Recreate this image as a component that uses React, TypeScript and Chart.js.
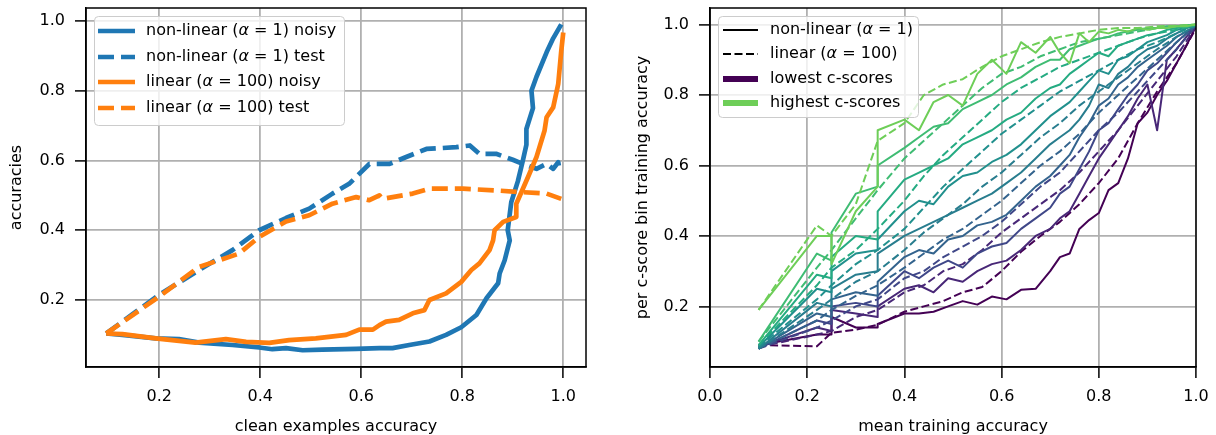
import React, { useEffect, useRef } from "react";
import { Chart, registerables } from "chart.js";
Chart.register(...registerables);

const FONT = "'DejaVu Sans', sans-serif";
const FS = 16;

// ---------- Left panel data ----------
const blueNoisyX = [0.095, 0.127, 0.193, 0.239, 0.279, 0.345, 0.398, 0.424, 0.451, 0.484, 0.523, 0.59, 0.636, 0.662, 0.695, 0.735, 0.768, 0.798, 0.828, 0.848, 0.871, 0.874, 0.884, 0.894, 0.89, 0.897, 0.91, 0.92, 0.927, 0.927, 0.94, 0.937, 0.947, 0.967, 0.98, 0.996];
const blueNoisyY = [0.104, 0.1, 0.09, 0.088, 0.078, 0.071, 0.064, 0.059, 0.062, 0.056, 0.058, 0.06, 0.062, 0.062, 0.071, 0.081, 0.1, 0.122, 0.157, 0.205, 0.248, 0.276, 0.314, 0.371, 0.4, 0.48, 0.54, 0.6, 0.645, 0.69, 0.75, 0.8, 0.84, 0.91, 0.95, 0.99];

const orangeNoisyX = [0.095, 0.127, 0.193, 0.272, 0.332, 0.372, 0.418, 0.457, 0.51, 0.57, 0.596, 0.623, 0.636, 0.649, 0.675, 0.702, 0.725, 0.735, 0.768, 0.798, 0.818, 0.834, 0.854, 0.861, 0.864, 0.881, 0.907, 0.907, 0.917, 0.93, 0.947, 0.963, 0.967, 0.98, 0.99, 0.996, 1.0];
const orangeNoisyY = [0.104, 0.102, 0.09, 0.078, 0.088, 0.08, 0.077, 0.085, 0.09, 0.1, 0.115, 0.115, 0.128, 0.138, 0.143, 0.162, 0.171, 0.2, 0.219, 0.252, 0.286, 0.305, 0.343, 0.371, 0.4, 0.424, 0.438, 0.476, 0.509, 0.552, 0.61, 0.686, 0.724, 0.752, 0.819, 0.914, 0.967];

const blueTestX = [0.095, 0.2, 0.279, 0.345, 0.398, 0.451, 0.497, 0.543, 0.576, 0.616, 0.656, 0.689, 0.729, 0.788, 0.815, 0.834, 0.867, 0.9, 0.92, 0.947, 0.967, 0.98, 0.99, 0.993];
const blueTestY = [0.104, 0.215, 0.286, 0.343, 0.4, 0.435, 0.462, 0.505, 0.533, 0.59, 0.59, 0.61, 0.633, 0.638, 0.643, 0.619, 0.619, 0.602, 0.59, 0.576, 0.59, 0.576, 0.595, 0.571];

const orangeTestX = [0.095, 0.2, 0.279, 0.358, 0.398, 0.451, 0.497, 0.543, 0.59, 0.616, 0.636, 0.642, 0.702, 0.735, 0.801, 0.867, 0.92, 0.967, 0.996];
const orangeTestY = [0.104, 0.21, 0.295, 0.333, 0.381, 0.425, 0.443, 0.476, 0.495, 0.486, 0.5, 0.49, 0.505, 0.519, 0.519, 0.514, 0.509, 0.505, 0.49];

const leftXTicks = [0.2, 0.4, 0.6, 0.8, 1.0];
const leftYTicks = [0.2, 0.4, 0.6, 0.8, 1.0];

// ---------- Right panel data ----------
const binColors = ["#440154", "#482777", "#3f4788", "#33638d", "#287d8e", "#21908d", "#25ab82", "#3fbc73", "#6ece58"];

const solidX = [0.10, 0.22, 0.25, 0.25, 0.30, 0.345, 0.345, 0.40, 0.43, 0.46, 0.49, 0.52, 0.55, 0.58, 0.61, 0.64, 0.67, 0.70, 0.72, 0.74, 0.76, 0.78, 0.80, 0.82, 0.84, 0.86, 0.88, 0.90, 0.92, 0.94, 0.96, 0.98, 1.0];
const solidBin0 = [0.09, 0.12, 0.12, 0.17, 0.14, 0.14, 0.15, 0.18, 0.18, 0.185, 0.2, 0.215, 0.205, 0.228, 0.22, 0.247, 0.25, 0.3, 0.34, 0.35, 0.42, 0.445, 0.465, 0.53, 0.55, 0.62, 0.72, 0.75, 0.8, 0.84, 0.89, 0.94, 0.995];
const solidBin1 = [0.085, 0.14, 0.13, 0.19, 0.18, 0.17, 0.2, 0.25, 0.26, 0.24, 0.28, 0.27, 0.3, 0.32, 0.33, 0.36, 0.4, 0.42, 0.45, 0.47, 0.52, 0.57, 0.62, 0.66, 0.7, 0.74, 0.79, 0.83, 0.7, 0.9, 0.93, 0.965, 0.995];
const solidBin2 = [0.08, 0.16, 0.15, 0.2, 0.21, 0.2, 0.23, 0.3, 0.28, 0.31, 0.33, 0.31, 0.35, 0.37, 0.38, 0.42, 0.45, 0.48, 0.52, 0.54, 0.59, 0.64, 0.7, 0.72, 0.76, 0.8, 0.83, 0.87, 0.89, 0.92, 0.95, 0.975, 0.997];
const solidBin3 = [0.08, 0.18, 0.17, 0.22, 0.24, 0.23, 0.27, 0.34, 0.36, 0.35, 0.39, 0.4, 0.43, 0.44, 0.46, 0.5, 0.54, 0.57, 0.6, 0.63, 0.68, 0.72, 0.77, 0.79, 0.83, 0.85, 0.88, 0.9, 0.92, 0.94, 0.965, 0.98, 0.997];
const solidBin4 = [0.08, 0.21, 0.2, 0.25, 0.29, 0.3, 0.35, 0.4, 0.42, 0.44, 0.46, 0.48, 0.5, 0.52, 0.55, 0.58, 0.62, 0.66, 0.68, 0.7, 0.73, 0.77, 0.83, 0.82, 0.86, 0.88, 0.91, 0.93, 0.94, 0.96, 0.975, 0.99, 0.998];
const solidBin5 = [0.085, 0.25, 0.24, 0.3, 0.35, 0.36, 0.39, 0.47, 0.5, 0.49, 0.54, 0.57, 0.58, 0.61, 0.63, 0.66, 0.7, 0.74, 0.76, 0.78, 0.81, 0.84, 0.87, 0.86, 0.9, 0.91, 0.93, 0.95, 0.96, 0.97, 0.985, 0.99, 0.998];
const solidBin6 = [0.09, 0.29, 0.28, 0.34, 0.4, 0.39, 0.47, 0.56, 0.58, 0.6, 0.62, 0.66, 0.68, 0.7, 0.73, 0.75, 0.79, 0.82, 0.83, 0.86, 0.88, 0.9, 0.92, 0.91, 0.94, 0.95, 0.96, 0.97, 0.975, 0.985, 0.99, 0.995, 0.999];
const solidBin7 = [0.1, 0.35, 0.33, 0.41, 0.52, 0.54, 0.6, 0.65, 0.68, 0.71, 0.72, 0.76, 0.78, 0.8, 0.83, 0.85, 0.88, 0.9, 0.9, 0.93, 0.94, 0.95, 0.96, 0.965, 0.975, 0.98, 0.985, 0.99, 0.99, 0.995, 0.995, 0.998, 1.0];
const solidBin8 = [0.19, 0.4, 0.4, 0.32, 0.47, 0.54, 0.7, 0.73, 0.7, 0.78, 0.8, 0.77, 0.86, 0.9, 0.86, 0.95, 0.92, 0.965, 0.92, 0.89, 0.975, 0.95, 0.98, 0.975, 0.985, 0.98, 0.99, 0.985, 0.99, 0.99, 0.995, 0.995, 1.0];

const dashedX = [0.10, 0.22, 0.25, 0.30, 0.345, 0.40, 0.44, 0.48, 0.52, 0.56, 0.60, 0.64, 0.68, 0.72, 0.76, 0.80, 0.84, 0.88, 0.92, 0.96, 1.0];
const dashedBin0 = [0.09, 0.087, 0.125, 0.134, 0.148, 0.185, 0.2, 0.215, 0.24, 0.255, 0.3, 0.355, 0.4, 0.44, 0.49, 0.55, 0.62, 0.72, 0.81, 0.89, 0.99];
const dashedBin1 = [0.085, 0.12, 0.13, 0.17, 0.19, 0.24, 0.26, 0.3, 0.32, 0.36, 0.41, 0.45, 0.49, 0.53, 0.58, 0.64, 0.7, 0.77, 0.84, 0.91, 0.995];
const dashedBin2 = [0.08, 0.14, 0.16, 0.2, 0.22, 0.28, 0.3, 0.34, 0.37, 0.4, 0.44, 0.49, 0.54, 0.58, 0.64, 0.7, 0.75, 0.81, 0.87, 0.93, 0.997];
const dashedBin3 = [0.08, 0.16, 0.19, 0.23, 0.26, 0.31, 0.35, 0.39, 0.42, 0.46, 0.5, 0.55, 0.6, 0.64, 0.69, 0.75, 0.8, 0.85, 0.9, 0.95, 0.997];
const dashedBin4 = [0.08, 0.19, 0.22, 0.27, 0.3, 0.36, 0.41, 0.45, 0.49, 0.54, 0.58, 0.63, 0.68, 0.72, 0.77, 0.81, 0.85, 0.89, 0.93, 0.965, 0.998];
const dashedBin5 = [0.085, 0.22, 0.26, 0.32, 0.36, 0.42, 0.48, 0.54, 0.59, 0.64, 0.69, 0.73, 0.77, 0.81, 0.84, 0.87, 0.9, 0.93, 0.95, 0.975, 0.998];
const dashedBin6 = [0.09, 0.26, 0.31, 0.36, 0.42, 0.5, 0.57, 0.63, 0.68, 0.73, 0.78, 0.82, 0.85, 0.88, 0.9, 0.92, 0.94, 0.96, 0.975, 0.985, 0.999];
const dashedBin7 = [0.1, 0.31, 0.36, 0.45, 0.53, 0.62, 0.67, 0.72, 0.77, 0.82, 0.86, 0.88, 0.91, 0.93, 0.95, 0.96, 0.97, 0.98, 0.99, 0.995, 1.0];
const dashedBin8 = [0.19, 0.43, 0.4, 0.49, 0.67, 0.72, 0.8, 0.83, 0.845, 0.88, 0.91, 0.93, 0.95, 0.965, 0.975, 0.985, 0.99, 0.99, 0.995, 0.997, 1.0];

const solidBins = [solidBin0, solidBin1, solidBin2, solidBin3, solidBin4, solidBin5, solidBin6, solidBin7, solidBin8];
const dashedBins = [dashedBin0, dashedBin1, dashedBin2, dashedBin3, dashedBin4, dashedBin5, dashedBin6, dashedBin7, dashedBin8];

const rightXTicks = [0.0, 0.2, 0.4, 0.6, 0.8, 1.0];
const rightYTicks = [0.2, 0.4, 0.6, 0.8, 1.0];

const leftLegend = [
  { label: "non-linear (α = 1) noisy", color: "#1f77b4", width: 4.7, dash: [] as number[] },
  { label: "non-linear (α = 1) test", color: "#1f77b4", width: 4.7, dash: [16, 7] },
  { label: "linear (α = 100) noisy", color: "#ff7f0e", width: 4.7, dash: [] as number[] },
  { label: "linear (α = 100) test", color: "#ff7f0e", width: 4.7, dash: [16, 7] },
];
const rightLegend = [
  { label: "non-linear (α = 1)", color: "#000000", width: 2, dash: [] as number[] },
  { label: "linear (α = 100)", color: "#000000", width: 2, dash: [8, 3.5] },
  { label: "lowest c-scores", color: "#440154", width: 6, dash: [] as number[] },
  { label: "highest c-scores", color: "#6ece58", width: 6, dash: [] as number[] },
];

const pts = (xs: number[], ys: number[]) => xs.map((x, i) => ({ x, y: ys[i] }));

function drawRich(ctx: CanvasRenderingContext2D, text: string, x: number, y: number) {
  const parts = text.split("α");
  let cx = x;
  parts.forEach((p, i) => {
    ctx.font = `${FS}px ${FONT}`;
    ctx.fillText(p, cx, y);
    cx += ctx.measureText(p).width;
    if (i < parts.length - 1) {
      ctx.font = `italic ${FS}px ${FONT}`;
      ctx.fillText("α", cx, y);
      cx += ctx.measureText("α").width;
    }
  });
}

type LegendCfg = {
  box: [number, number, number, number];
  hx: [number, number];
  tx: number;
  rows: number[];
  items: { label: string; color: string; width: number; dash: number[] }[];
};

function makePlugins(leg: LegendCfg) {
  return [
    {
      id: "frameAndLegend",
      afterDraw(chart: any) {
        const { ctx, chartArea } = chart;
        ctx.save();
        ctx.strokeStyle = "#000";
        ctx.lineWidth = 1.5;
        ctx.setLineDash([]);
        ctx.strokeRect(chartArea.left, chartArea.top, chartArea.right - chartArea.left, chartArea.bottom - chartArea.top);
        const [bx, by, bw, bh] = leg.box;
        ctx.beginPath();
        if ((ctx as any).roundRect) (ctx as any).roundRect(bx + 0.5, by + 0.5, bw, bh, 4);
        else ctx.rect(bx + 0.5, by + 0.5, bw, bh);
        ctx.fillStyle = "rgba(255,255,255,0.8)";
        ctx.fill();
        ctx.strokeStyle = "#cccccc";
        ctx.lineWidth = 1;
        ctx.stroke();
        leg.items.forEach((it, i) => {
          const y = leg.rows[i];
          ctx.beginPath();
          ctx.strokeStyle = it.color;
          ctx.lineWidth = it.width;
          ctx.lineCap = "butt";
          ctx.setLineDash(it.dash);
          ctx.moveTo(leg.hx[0], y);
          ctx.lineTo(leg.hx[1], y);
          ctx.stroke();
          ctx.setLineDash([]);
          ctx.fillStyle = "#000";
          ctx.textAlign = "left";
          ctx.textBaseline = "middle";
          drawRich(ctx, it.label, leg.tx, y);
        });
        ctx.restore();
      },
    },
  ];
}

function axisOpts(min: number, max: number, tickVals: number[], title: string, horizontal: boolean, size: number, titlePad: any) {
  return {
    type: "linear" as const,
    min,
    max,
    afterFit: (s: any) => {
      if (horizontal) s.height = size;
      else s.width = size;
      s.paddingTop = 0;
      s.paddingBottom = 0;
      s.paddingLeft = 0;
      s.paddingRight = 0;
    },
    afterBuildTicks: (s: any) => {
      s.ticks = tickVals.map((v) => ({ value: v }));
    },
    ticks: {
      callback: (v: any) => Number(v).toFixed(1),
      font: { family: FONT, size: FS },
      color: "#000",
      padding: horizontal ? 9 : 10,
      maxRotation: 0,
      autoSkip: false,
    },
    grid: {
      color: "#b0b0b0",
      lineWidth: 1.8,
      drawTicks: true,
      tickLength: 11,
      tickColor: "#000",
      tickWidth: 1.5,
    },
    border: { display: true, color: "#000", width: 1.5 },
    title: {
      display: true,
      text: title,
      font: { family: FONT, size: FS },
      color: "#000",
      padding: titlePad,
    },
  };
}

function LeftChart() {
  const ref = useRef<HTMLCanvasElement>(null);
  useEffect(() => {
    const lw = 4.7;
    const mk = (label: string, xs: number[], ys: number[], color: string, dashed: boolean) => ({
      label,
      data: pts(xs, ys),
      borderColor: color,
      backgroundColor: color,
      borderWidth: lw,
      borderDash: dashed ? [16, 7] : [],
      borderCapStyle: "butt" as const,
      borderJoinStyle: "round" as const,
      pointRadius: 0,
      tension: 0,
      fill: false,
    });
    const chart = new Chart(ref.current!, {
      type: "line",
      data: {
        datasets: [
          mk("linear (α = 100) test", orangeTestX, orangeTestY, "#ff7f0e", true),
          mk("linear (α = 100) noisy", orangeNoisyX, orangeNoisyY, "#ff7f0e", false),
          mk("non-linear (α = 1) test", blueTestX, blueTestY, "#1f77b4", true),
          mk("non-linear (α = 1) noisy", blueNoisyX, blueNoisyY, "#1f77b4", false),
        ],
      },
      options: {
        animation: false,
        responsive: false,
        devicePixelRatio: 1,
        layout: { padding: { left: 0, right: 22, top: 8, bottom: 0 } },
        plugins: { legend: { display: false }, tooltip: { enabled: false } },
        scales: {
          x: axisOpts(0.055, 1.045, leftXTicks, "clean examples accuracy", true, 68, { top: 0, bottom: -1 }),
          y: axisOpts(0.008, 1.037, leftYTicks, "accuracies", false, 86, { top: 7, bottom: 0 }),
        },
      } as any,
      plugins: makePlugins({
        box: [94, 16, 250, 109],
        hx: [98, 135],
        tx: 146,
        rows: [31, 57, 82, 108],
        items: leftLegend,
      }) as any,
    });
    return () => chart.destroy();
  }, []);
  return <canvas ref={ref} width={608} height={435} style={{ position: "absolute", left: 0, top: 0, width: 608, height: 435 }} />;
}

function RightChart() {
  const ref = useRef<HTMLCanvasElement>(null);
  useEffect(() => {
    const datasets: any[] = [];
    for (let i = binColors.length - 1; i >= 0; i--) {
      datasets.push({
        label: `bin ${i} linear`,
        data: pts(dashedX, dashedBins[i]),
        borderColor: binColors[i],
        borderWidth: 2,
        borderDash: [8, 3.5],
        borderCapStyle: "butt",
        borderJoinStyle: "round",
        pointRadius: 0,
        tension: 0,
        fill: false,
      });
      datasets.push({
        label: `bin ${i} non-linear`,
        data: pts(solidX, solidBins[i]),
        borderColor: binColors[i],
        borderWidth: 2,
        borderDash: [],
        borderCapStyle: "butt",
        borderJoinStyle: "round",
        pointRadius: 0,
        tension: 0,
        fill: false,
      });
    }
    const chart = new Chart(ref.current!, {
      type: "line",
      data: { datasets },
      options: {
        animation: false,
        responsive: false,
        devicePixelRatio: 1,
        layout: { padding: { left: 0, right: 20, top: 8, bottom: 0 } },
        plugins: { legend: { display: false }, tooltip: { enabled: false } },
        scales: {
          x: axisOpts(0, 1, rightXTicks, "mean training accuracy", true, 68, { top: 0, bottom: -1 }),
          y: axisOpts(0.028, 1.047, rightYTicks, "per c-score bin training accuracy", false, 102, { top: 25, bottom: 0 }),
        },
      } as any,
      plugins: makePlugins({
        box: [110, 16, 200, 101],
        hx: [115, 150],
        tx: 162,
        rows: [30, 54, 79, 103],
        items: rightLegend,
      }) as any,
    });
    return () => chart.destroy();
  }, []);
  return <canvas ref={ref} width={608} height={435} style={{ position: "absolute", left: 608, top: 0, width: 608, height: 435 }} />;
}

export default function App() {
  return (
    <div style={{ position: "absolute", left: 0, top: 0, width: 1216, height: 435, background: "#fff", overflow: "hidden" }}>
      <LeftChart />
      <RightChart />
    </div>
  );
}
